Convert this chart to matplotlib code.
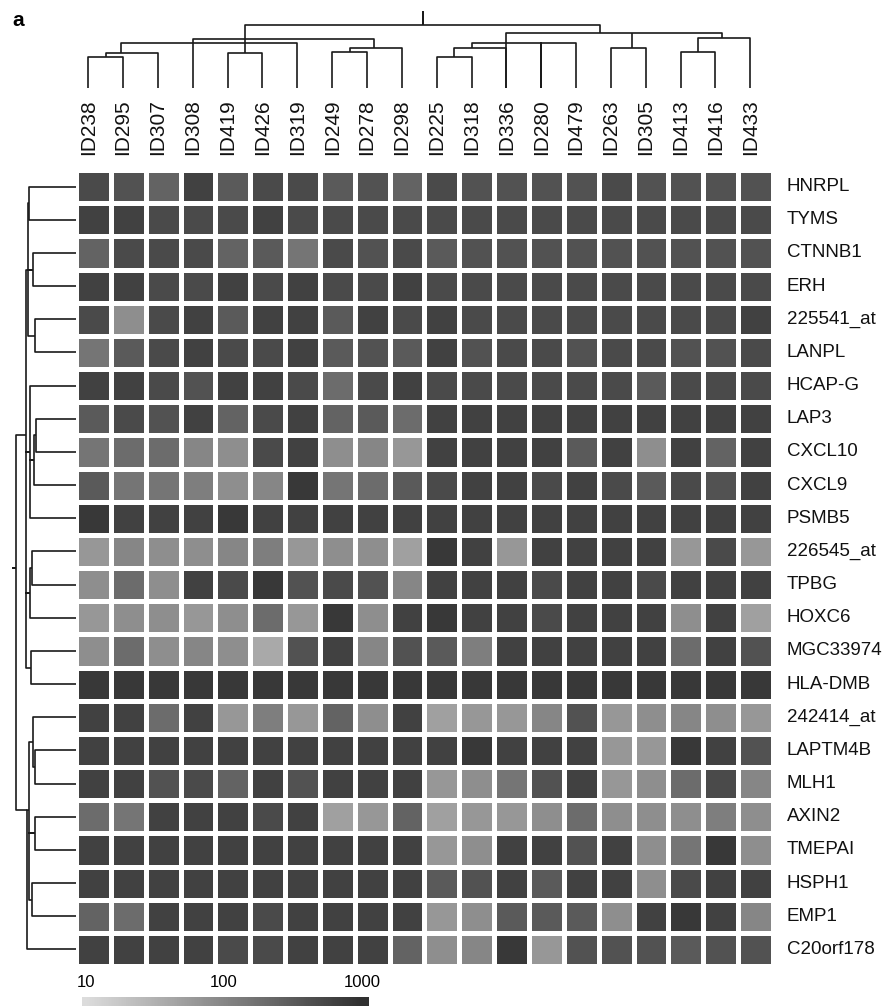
#!/usr/bin/env python3
"""Clustered expression heatmap (grey scale) with sample and gene dendrograms."""

import numpy as np
import matplotlib.pyplot as plt
from matplotlib.colors import LinearSegmentedColormap

W, H = 887, 1006
DPI = 100
LINE = "#1a1a1a"
FONT = ["Liberation Sans", "DejaVu Sans"]

plt.rcParams.update({"font.family": FONT})

SAMPLES = [
    "ID238", "ID295", "ID307", "ID308", "ID419", "ID426", "ID319", "ID249",
    "ID278", "ID298", "ID225", "ID318", "ID336", "ID280", "ID479", "ID263",
    "ID305", "ID413", "ID416", "ID433",
]
GENES = [
    "HNRPL", "TYMS", "CTNNB1", "ERH", "225541_at", "LANPL", "HCAP-G", "LAP3",
    "CXCL10", "CXCL9", "PSMB5", "226545_at", "TPBG", "HOXC6", "MGC33974",
    "HLA-DMB", "242414_at", "LAPTM4B", "MLH1", "AXIN2", "TMEPAI", "HSPH1",
    "EMP1", "C20orf178",
]

# log10 expression, one list per gene, samples in dendrogram order
HNRPL = [2.7, 2.6, 2.4, 2.8, 2.5, 2.7, 2.7, 2.5, 2.6, 2.4, 2.7, 2.6, 2.6, 2.6, 2.6, 2.7, 2.6, 2.6, 2.6, 2.6]
TYMS = [2.8, 2.8, 2.7, 2.7, 2.7, 2.8, 2.7, 2.7, 2.7, 2.7, 2.7, 2.7, 2.7, 2.7, 2.7, 2.7, 2.7, 2.7, 2.7, 2.7]
CTNNB1 = [2.4, 2.7, 2.7, 2.7, 2.4, 2.5, 2.2, 2.7, 2.6, 2.7, 2.5, 2.6, 2.6, 2.6, 2.6, 2.6, 2.6, 2.6, 2.6, 2.6]
ERH = [2.8, 2.8, 2.7, 2.7, 2.8, 2.7, 2.8, 2.7, 2.7, 2.8, 2.7, 2.7, 2.7, 2.7, 2.7, 2.7, 2.7, 2.7, 2.7, 2.7]
AT225541 = [2.7, 1.9, 2.7, 2.8, 2.5, 2.8, 2.8, 2.5, 2.8, 2.7, 2.8, 2.7, 2.7, 2.7, 2.7, 2.7, 2.7, 2.7, 2.7, 2.8]
LANPL = [2.2, 2.5, 2.7, 2.8, 2.7, 2.7, 2.8, 2.5, 2.6, 2.5, 2.8, 2.6, 2.7, 2.7, 2.6, 2.7, 2.7, 2.6, 2.6, 2.7]
HCAPG = [2.8, 2.8, 2.7, 2.6, 2.8, 2.8, 2.7, 2.3, 2.7, 2.8, 2.7, 2.7, 2.7, 2.7, 2.7, 2.7, 2.5, 2.7, 2.7, 2.7]
LAP3 = [2.5, 2.7, 2.6, 2.8, 2.4, 2.7, 2.8, 2.4, 2.5, 2.3, 2.8, 2.8, 2.8, 2.8, 2.8, 2.8, 2.8, 2.8, 2.8, 2.8]
CXCL10 = [2.2, 2.3, 2.3, 2.0, 1.9, 2.7, 2.8, 1.9, 2.0, 1.8, 2.8, 2.8, 2.8, 2.8, 2.5, 2.8, 1.9, 2.8, 2.4, 2.8]
CXCL9 = [2.5, 2.2, 2.2, 2.1, 1.9, 2.0, 2.9, 2.2, 2.3, 2.5, 2.7, 2.8, 2.8, 2.7, 2.8, 2.7, 2.5, 2.7, 2.6, 2.8]
PSMB5 = [2.9, 2.8, 2.8, 2.8, 2.9, 2.8, 2.8, 2.8, 2.8, 2.8, 2.8, 2.8, 2.8, 2.8, 2.8, 2.8, 2.8, 2.8, 2.8, 2.8]
AT226545 = [1.8, 2.0, 1.9, 1.9, 2.0, 2.1, 1.8, 1.9, 1.9, 1.7, 2.9, 2.8, 1.8, 2.8, 2.8, 2.8, 2.8, 1.8, 2.7, 1.8]
TPBG = [1.9, 2.3, 1.9, 2.8, 2.7, 2.9, 2.6, 2.7, 2.6, 2.0, 2.8, 2.8, 2.8, 2.7, 2.8, 2.8, 2.7, 2.8, 2.8, 2.8]
HOXC6 = [1.8, 1.9, 1.9, 1.8, 1.9, 2.3, 1.8, 2.9, 1.9, 2.8, 2.9, 2.8, 2.8, 2.7, 2.8, 2.8, 2.8, 1.9, 2.8, 1.7]
MGC33974 = [1.9, 2.3, 1.9, 2.0, 1.9, 1.6, 2.6, 2.8, 2.0, 2.6, 2.5, 2.1, 2.8, 2.8, 2.8, 2.8, 2.8, 2.3, 2.8, 2.6]
HLADMB = [2.9, 2.9, 2.9, 2.9, 2.9, 2.9, 2.9, 2.9, 2.9, 2.9, 2.9, 2.9, 2.9, 2.9, 2.9, 2.9, 2.9, 2.9, 2.9, 2.9]
AT242414 = [2.8, 2.8, 2.3, 2.8, 1.8, 2.1, 1.8, 2.4, 1.9, 2.8, 1.7, 1.8, 1.8, 2.0, 2.6, 1.8, 1.9, 2.0, 1.9, 1.8]
LAPTM4B = [2.8, 2.8, 2.8, 2.8, 2.8, 2.8, 2.8, 2.8, 2.8, 2.8, 2.8, 2.9, 2.8, 2.8, 2.8, 1.8, 1.8, 2.9, 2.8, 2.6]
MLH1 = [2.8, 2.8, 2.6, 2.7, 2.4, 2.8, 2.6, 2.8, 2.8, 2.8, 1.8, 1.9, 2.2, 2.6, 2.8, 1.8, 1.9, 2.3, 2.7, 2.0]
AXIN2 = [2.3, 2.2, 2.8, 2.8, 2.8, 2.7, 2.8, 1.7, 1.8, 2.4, 1.7, 1.8, 1.8, 1.9, 2.3, 1.9, 1.9, 1.9, 2.1, 1.9]
TMEPAI = [2.8, 2.8, 2.8, 2.8, 2.8, 2.8, 2.8, 2.8, 2.8, 2.8, 1.8, 1.9, 2.8, 2.8, 2.6, 2.8, 1.9, 2.2, 2.9, 1.9]
HSPH1 = [2.8, 2.8, 2.8, 2.8, 2.8, 2.8, 2.8, 2.8, 2.8, 2.8, 2.5, 2.6, 2.8, 2.5, 2.8, 2.8, 1.9, 2.7, 2.8, 2.8]
EMP1 = [2.4, 2.3, 2.8, 2.8, 2.8, 2.7, 2.8, 2.8, 2.8, 2.8, 1.8, 1.9, 2.5, 2.5, 2.5, 1.9, 2.8, 2.9, 2.8, 2.0]
C20ORF178 = [2.8, 2.8, 2.8, 2.8, 2.7, 2.7, 2.8, 2.8, 2.8, 2.4, 1.9, 2.0, 2.9, 1.8, 2.6, 2.6, 2.6, 2.5, 2.6, 2.6]

ROWS = [
    HNRPL, TYMS, CTNNB1, ERH, AT225541, LANPL, HCAPG, LAP3, CXCL10, CXCL9,
    PSMB5, AT226545, TPBG, HOXC6, MGC33974, HLADMB, AT242414, LAPTM4B, MLH1,
    AXIN2, TMEPAI, HSPH1, EMP1, C20ORF178,
]

# dendrogram links: (leaf pos a, leaf pos b, height a, height b, height top)
SAMPLE_LINKS = [
    (0, 1, 0, 0, 31), (0.5, 2, 31, 0, 35), (0.95, 6, 35, 0, 45),
    (4, 5, 0, 0, 35), (7, 8, 0, 0, 36), (7.5, 9, 36, 0, 40),
    (3, 8.2, 0, 40, 49), (10, 11, 0, 0, 31), (10.5, 12, 31, 0, 40),
    (11, 14, 40, 0, 45), (13, 13, 0, 0, 45), (15, 16, 0, 0, 40),
    (17, 18, 0, 0, 36), (17.5, 19, 36, 0, 50), (12, 18.2, 0, 50, 55),
    (15.6, 15.6, 40, 55, 55), (4.5, 14.7, 35, 55, 63), (9.6, 9.6, 63, 63, 76),
]
GENE_LINKS = [
    (0, 1, 0, 0, 47), (2, 3, 0, 0, 43), (4, 5, 0, 0, 41),
    (0.5, 4.5, 47, 41, 48), (2.5, 2.5, 43, 43, 48),
    (7, 8, 0, 0, 40), (7.5, 9, 40, 0, 42), (6, 10, 0, 0, 46),
    (8.25, 8.25, 42, 42, 46), (11, 12, 0, 0, 44), (11.5, 13, 44, 0, 46),
    (14, 15, 0, 0, 45), (2.5, 14.5, 48, 45, 50), (8, 8, 46, 46, 50),
    (12.25, 12.25, 46, 46, 50),
    (17, 18, 0, 0, 41), (16, 17.5, 0, 41, 43), (19, 20, 0, 0, 41),
    (21, 22, 0, 0, 44), (16.75, 21.5, 43, 44, 47), (19.5, 19.5, 41, 41, 47),
    (18.8, 23, 47, 0, 49),
    (7.5, 18.8, 50, 49, 60), (11.5, 11.5, 60, 60, 63),
]

CBAR_TICKS = [1, 2, 3]
CBAR_LABELS = ["10", "100", "1000"]

CMAP = LinearSegmentedColormap.from_list("grey", ["#dcdcdc", "#303030"])
VMIN, VMAX = 1.0, 3.0
LEAF_SHIFT = -0.15


def px_axes(fig, x0, y0, x1, y1):
    """Axes from pixel box (top-left origin)."""
    return fig.add_axes([x0 / W, 1 - y1 / H, (x1 - x0) / W, (y1 - y0) / H])


def draw_links(ax, links, vertical_leaves, shift=0.0):
    for a, b, ha, hb, top in links:
        p = np.array([a, a, b, b]) + 0.5 + shift
        h = [ha, top, top, hb]
        if vertical_leaves:
            ax.plot(p, h, color=LINE, lw=1.2, solid_capstyle="butt", clip_on=False)
        else:
            ax.plot(h, p, color=LINE, lw=1.2, solid_capstyle="butt", clip_on=False)


def main():
    data = np.array(ROWS)
    fig = plt.figure(figsize=(W / DPI, H / DPI), dpi=DPI)
    fig.patch.set_facecolor("white")

    # heatmap
    ax = px_axes(fig, 76, 170, 773, 966)
    ax.pcolormesh(
        np.arange(len(SAMPLES) + 1), np.arange(len(GENES) + 1), data,
        cmap=CMAP, vmin=VMIN, vmax=VMAX, edgecolors="white", linewidth=2.4,
    )
    ax.set_xlim(0, len(SAMPLES))
    ax.set_ylim(len(GENES), 0)
    ax.axis("off")

    for i, name in enumerate(SAMPLES):
        ax.text(i + 0.5 + LEAF_SHIFT, -0.45, name, rotation=90, ha="center", va="bottom",
                fontsize=15, color="#111111")
    for j, name in enumerate(GENES):
        ax.text(len(SAMPLES) + 0.4, j + 0.5, name, ha="left", va="center",
                fontsize=13.5, color="#111111")

    # sample dendrogram
    axt = px_axes(fig, 76, 12, 773, 88)
    draw_links(axt, SAMPLE_LINKS, True, LEAF_SHIFT)
    axt.set_xlim(0, len(SAMPLES))
    axt.set_ylim(0, 76)
    axt.axis("off")

    # gene dendrogram
    axl = px_axes(fig, 13, 170, 76, 966)
    draw_links(axl, GENE_LINKS, False)
    axl.set_xlim(63, 0)
    axl.set_ylim(len(GENES), 0)
    axl.axis("off")

    # colour key
    cax = px_axes(fig, 82, 997, 369, 1012)
    lo = CBAR_TICKS[0] - 4 / 138
    hi = CBAR_TICKS[-1] + 7 / 138
    grad = np.linspace(lo, hi, 256)[None, :]
    cax.imshow(grad, cmap=CMAP, vmin=VMIN, vmax=VMAX, aspect="auto",
               extent=[lo, hi, 0, 1])
    cax.set_xlim(lo, hi)
    cax.set_yticks([])
    cax.set_xticks(CBAR_TICKS)
    cax.set_xticklabels(CBAR_LABELS)
    cax.xaxis.tick_top()
    cax.tick_params(axis="x", length=0, pad=5, labelsize=12)
    for s in cax.spines.values():
        s.set_visible(False)

    fig.text(12 / W, 1 - 20 / H, "a", fontsize=15, fontweight="bold",
             ha="left", va="center")

    fig.savefig("out.png", dpi=DPI, facecolor="white")
    plt.close(fig)


if __name__ == "__main__":
    main()
